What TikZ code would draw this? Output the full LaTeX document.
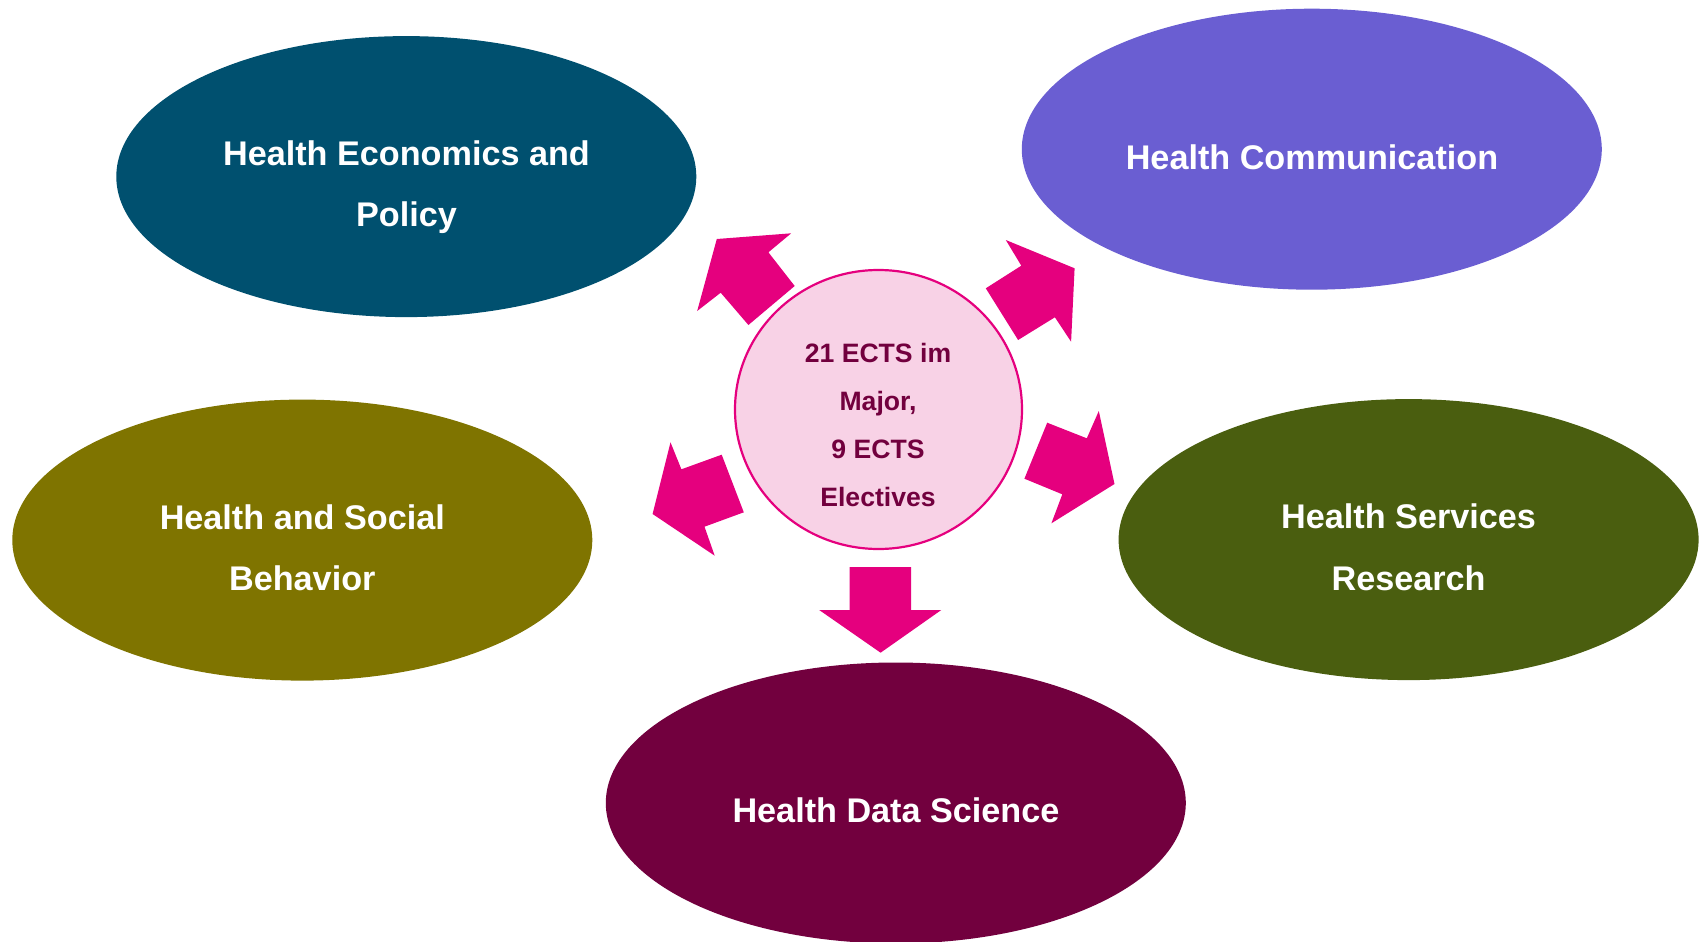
\documentclass[tikz,border=0pt]{standalone}
\usepackage{fontspec}
\setmainfont{Liberation Sans}
\usetikzlibrary{shapes.geometric}
\definecolor{cEcon}{HTML}{00506F}
\definecolor{cComm}{HTML}{6A5ED2}
\definecolor{cSoc}{HTML}{7F7400}
\definecolor{cServ}{HTML}{4A5E0F}
\definecolor{cData}{HTML}{72003E}
\definecolor{cPink}{HTML}{E5007E}
\definecolor{cLight}{HTML}{F8D2E6}
\definecolor{cDark}{HTML}{72003E}
\begin{document}
\begin{tikzpicture}[x=0.5pt,y=-0.5pt,
  blob/.style={ellipse, inner sep=0pt, minimum width=290pt, minimum height=140.5pt, draw=none},
  lbl/.style={anchor=base, inner sep=0pt, text=white, font=\fontsize{17.1}{20}\selectfont\bfseries},
  clbl/.style={anchor=base, inner sep=0pt, text=cDark, font=\fontsize{13.3}{16}\selectfont\bfseries},
  blk/.style={fill=cPink, draw=none}]
\useasboundingbox (0,0) rectangle (1699,942);
% topic ellipses
\node[blob, fill=cEcon] (econ) at (406.3,176.6) {};
\node[blob, fill=cComm] (comm) at (1311.8,149.2) {};
\node[blob, fill=cSoc]  (soc)  at (302.3,540.1) {};
\node[blob, fill=cServ] (serv) at (1408.6,539.6) {};
\node[blob, fill=cData] (data) at (895.8,803) {};
% centre
\node[ellipse, inner sep=0pt, minimum width=143.5pt, minimum height=139.5pt,
      fill=cLight, draw=cPink, line width=1.1pt] (core) at (878.5,409.5) {};
% labels
\node[lbl] (econA) at (406.5,165.7) {Health Economics and};
\node[lbl] (econB) at (406.5,226.7) {Policy};
\node[lbl] (commA) at (1312,169) {Health Communication};
\node[lbl] (socA)  at (302.3,529) {Health and Social};
\node[lbl] (socB)  at (302.3,590) {Behavior};
\node[lbl] (servA) at (1408.6,528.3) {Health Services};
\node[lbl] (servB) at (1408.6,590) {Research};
\node[lbl] (dataA) at (896,822.4) {Health Data Science};
\node[clbl] (coreA) at (878,362.3) {21 ECTS im};
\node[clbl] (coreB) at (878,410.7) {Major,};
\node[clbl] (coreC) at (878,458.3) {9 ECTS};
\node[clbl] (coreD) at (878,506.7) {Electives};
% block arrows
\fill[blk] (716.8,239) -- (791.2,233.3) -- (768.4,252.3) -- (794.7,286) -- (748.4,325) -- (720.7,292.7) -- (697.2,311) -- cycle;
\fill[blk] (1005.8,240) -- (1074.6,268.3) -- (1071.1,341.7) -- (1054.9,317.3) -- (1018.1,340) -- (985.8,288.3) -- (1021.3,265.7) -- cycle;
\fill[blk] (1047.2,422.7) -- (1086.8,438.3) -- (1098.8,411) -- (1114.5,484) -- (1051.4,523.3) -- (1062.3,494.3) -- (1024.4,478.7) -- cycle;
\fill[blk] (721.7,454.7) -- (743.8,512.3) -- (704.5,526.7) -- (714.7,555.7) -- (652.6,514) -- (670.5,442.3) -- (681.4,469.3) -- cycle;
\fill[blk] (849.7,567) -- (911.1,567) -- (911.1,610) -- (941.3,610) -- (880.6,652.7) -- (819.2,610) -- (849.7,610) -- cycle;
\end{tikzpicture}
\end{document}
